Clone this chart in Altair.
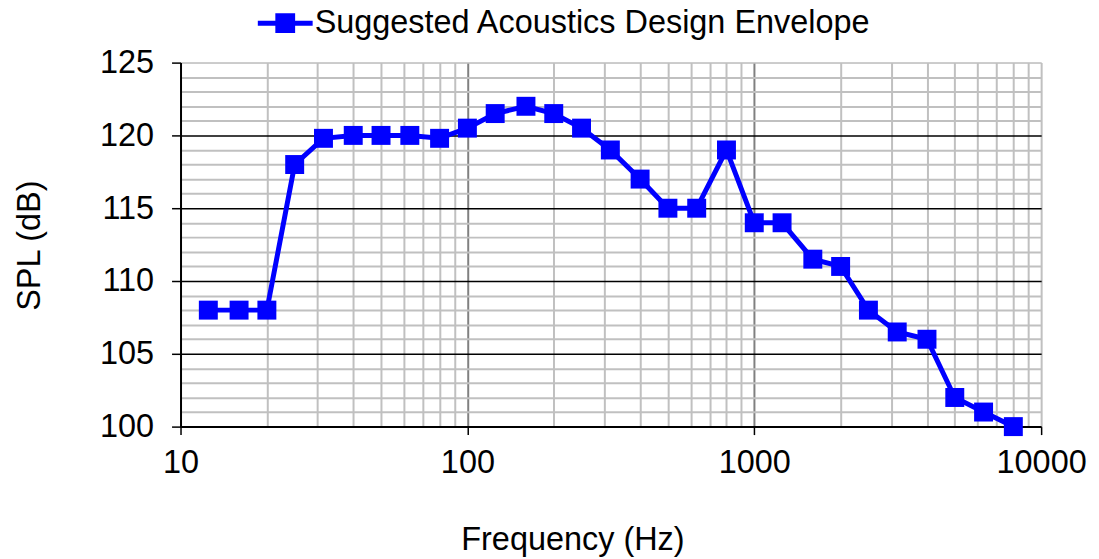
import altair as alt
import pandas as pd

freqs = [12.5, 16, 20, 25, 31.5, 40, 50, 63, 80, 100, 125, 160, 200, 250, 315,
         400, 500, 630, 800, 1000, 1250, 1600, 2000, 2500, 3150, 4000, 5000, 6300, 8000]
spl = [108, 108, 108, 118, 119.8, 120, 120, 120, 119.8, 120.5, 121.5, 122, 121.5, 120.5, 119,
       117, 115, 115, 119, 114, 114, 111.5, 111, 108, 106.5, 106, 102, 101, 100]
series_name = "Suggested Acoustics Design Envelope"

x_grid_values = [m * 10 ** e for e in range(1, 4) for m in range(1, 10)] + [10000]
y_grid_values = list(range(100, 126))

df = pd.DataFrame({"freq": freqs, "spl": spl, "series": [series_name] * len(freqs)})

FONT = "Liberation Sans"
BLUE = "#0000FF"
FS = 32.5

x_enc = alt.X(
    "freq:Q",
    scale=alt.Scale(type="log", domain=[10, 10000], nice=False),
    axis=alt.Axis(
        values=x_grid_values,
        tickCount=200,
        title="Frequency (Hz)",
        titleX=393, titleY=113, titleBaseline="middle", titleAlign="center",
        titleFont=FONT, titleFontSize=FS, titleFontWeight="normal", titleColor="black",
        labelExpr="(datum.value==10||datum.value==100||datum.value==1000||datum.value==10000) ? format(datum.value,'d') : ''",
        labelFont=FONT, labelFontSize=FS, labelColor="black", labelPadding=12,
        labelOverlap=False, labelFlush=False,
        tickSize=8, tickColor="black", tickWidth=1.5,
        tickOpacity={"condition": {"test": "datum.value==10||datum.value==100||datum.value==1000||datum.value==10000", "value": 1}, "value": 0},
        domainColor="black", domainWidth=2,
        grid=True,
        gridColor={"condition": {"test": "datum.value==100||datum.value==1000", "value": "#808080"}, "value": "#c0c0c0"},
        gridWidth=2,
    ),
)

y_enc = alt.Y(
    "spl:Q",
    scale=alt.Scale(domain=[100, 125], nice=False, zero=False),
    axis=alt.Axis(
        values=y_grid_values,
        tickCount=200,
        title="SPL (dB)",
        titleX=-151, titleY=183, titleAngle=270, titleBaseline="middle", titleAlign="center",
        titleFont=FONT, titleFontSize=FS, titleFontWeight="normal", titleColor="black",
        labelExpr="datum.value % 5 == 0 ? format(datum.value, 'd') : ''",
        labelFont=FONT, labelFontSize=FS, labelColor="black", labelPadding=18,
        labelOverlap=False,
        tickSize=9, tickColor="black", tickWidth=1.5,
        tickOpacity={"condition": {"test": "datum.value % 5 == 0", "value": 1}, "value": 0},
        domainColor="black", domainWidth=2,
        grid=True,
        gridColor={"condition": {"test": "datum.value % 5 == 0 && datum.value > 100 && datum.value < 125", "value": "black"}, "value": "#c0c0c0"},
        gridWidth={"condition": {"test": "datum.value % 5 == 0", "value": 1.5}, "value": 2},
    ),
)

base = alt.Chart(df)

line = base.mark_line(color=BLUE, strokeWidth=5, clip=False).encode(x=x_enc, y=y_enc)

points = base.mark_point(shape="square", filled=True, size=361, opacity=1, clip=False).encode(
    x=alt.X("freq:Q"),
    y=alt.Y("spl:Q"),
    color=alt.Color(
        "series:N",
        scale=alt.Scale(range=[BLUE]),
        legend=alt.Legend(
            title=None,
            orient="none",
            legendX=88.5, legendY=-56,
            padding=0,
            symbolType="M-2,0H2M-0.54,-0.54H0.54V0.54H-0.54Z",
            symbolSize=756,
            symbolStrokeColor=BLUE,
            symbolFillColor=BLUE,
            symbolStrokeWidth=5,
            labelFont=FONT, labelFontSize=FS, labelColor="black",
            labelOffset=13,
            labelLimit=1000,
        ),
    ),
)

chart = (
    alt.layer(line, points)
    .properties(
        width=863,
        height=365,
        autosize=alt.AutoSizeParams(type="none"),
        padding={"left": 173, "top": 54, "right": 50, "bottom": 132},
    )
    .configure_view(stroke="#808080", strokeWidth=2)
    .configure(background="white")
)

chart.save("out.html", embed_options={"renderer": "svg", "actions": False})
